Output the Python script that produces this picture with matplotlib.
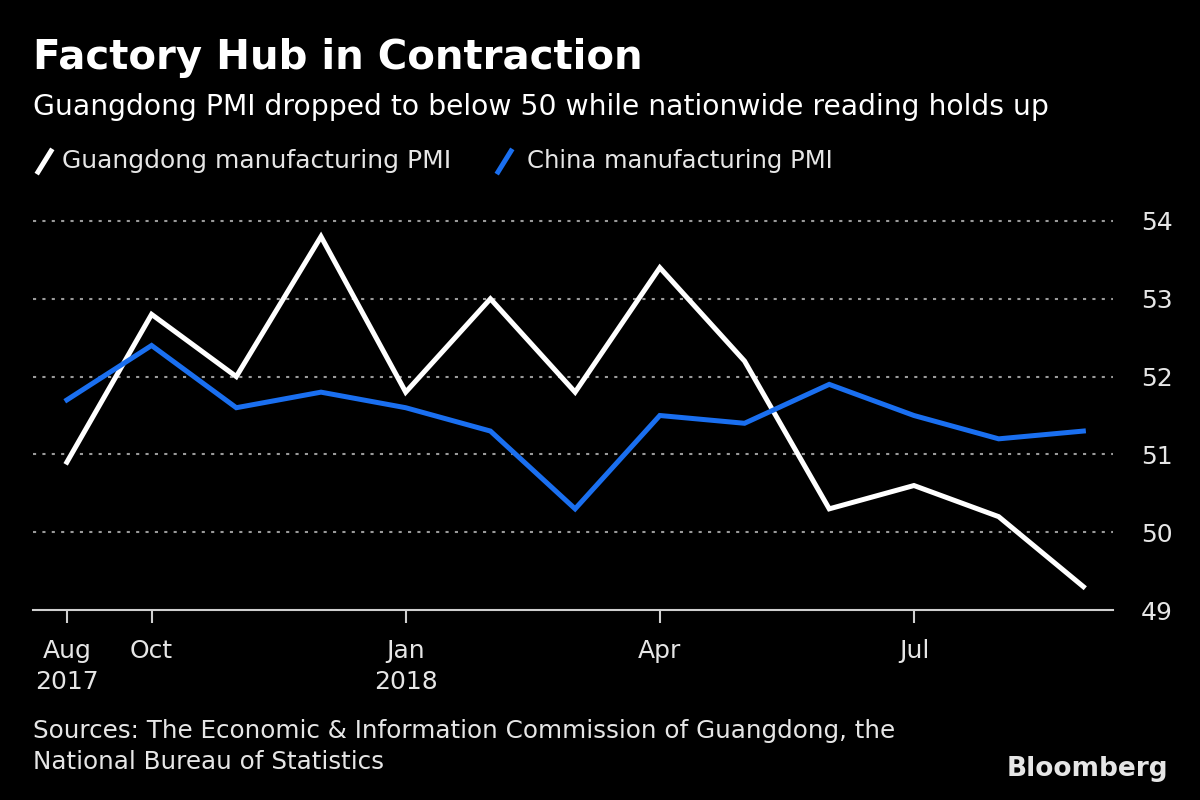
import matplotlib
matplotlib.use("Agg")
import matplotlib.pyplot as plt
from matplotlib.lines import Line2D
import numpy as np

plt.rcParams['font.family'] = ['DejaVu Sans']

# data: 13 monthly readings
guangdong = [50.9, 52.8, 52.0, 53.8, 51.8, 53.0, 51.8, 53.4, 52.2, 50.3, 50.6, 50.2, 49.3]
china = [51.7, 52.4, 51.6, 51.8, 51.6, 51.3, 50.3, 51.5, 51.4, 51.9, 51.5, 51.2, 51.3]
tick_idx = [0, 1, 4, 7, 10]
tick_labels = ["Aug\n2017", "Oct", "Jan\n2018", "Apr", "Jul"]
y_ticks = [49, 50, 51, 52, 53, 54]

BG = "black"
FG = "#e6e6e6"
BLUE = "#1a6ff0"
W, H = 1200, 800

fig = plt.figure(figsize=(12, 8), dpi=100, facecolor=BG)
ax = fig.add_axes([33 / W, 1 - 610 / H, (1113 - 33) / W, 400 / H], facecolor=BG)

x = np.arange(len(guangdong))
ax.plot(x, guangdong, color="white", lw=3.6, solid_joinstyle="miter", zorder=3)
ax.plot(x, china, color=BLUE, lw=3.6, solid_joinstyle="miter", zorder=3)

ax.set_xlim(-0.4, 12.35)
ax.set_ylim(49, 49 + 400 / 77.8)

for v in y_ticks[1:]:
    ax.axhline(v, color="#9a9a9a", lw=1.5, ls=(0, (1.5, 3)), zorder=1)

for s in ["top", "left", "right"]:
    ax.spines[s].set_visible(False)
ax.spines["bottom"].set_color("#cfcfcf")
ax.spines["bottom"].set_linewidth(1.5)

ax.yaxis.tick_right()
ax.set_yticks(y_ticks)
ax.set_yticklabels([str(v) for v in y_ticks])
ax.tick_params(axis="y", length=0, pad=20, labelsize=18, labelcolor=FG)
ax.set_xticks(tick_idx)
ax.set_xticklabels(tick_labels, linespacing=1.35)
ax.tick_params(axis="x", length=9, width=1.5, color="#cfcfcf", direction="out",
               pad=12, labelsize=18, labelcolor=FG)

fig.text(33 / W, 1 - 58 / H, "Factory Hub in Contraction", color="white",
         fontsize=29, fontweight="bold", va="center", ha="left")
fig.text(33 / W, 1 - 107 / H, "Guangdong PMI dropped to below 50 while nationwide reading holds up",
         color="white", fontsize=20.3, va="center", ha="left")

# legend with slash markers
fig.add_artist(Line2D([38 / W, 51 / W], [1 - 172 / H, 1 - 151 / H], color="white", lw=3.6,
                      transform=fig.transFigure))
fig.text(62 / W, 1 - 161 / H, "Guangdong manufacturing PMI", color=FG, fontsize=18, va="center")
fig.add_artist(Line2D([498 / W, 511 / W], [1 - 172 / H, 1 - 151 / H], color=BLUE, lw=3.6,
                      transform=fig.transFigure))
fig.text(527 / W, 1 - 161 / H, "China manufacturing PMI", color=FG, fontsize=17.5, va="center")

fig.text(33 / W, 1 - 731 / H, "Sources: The Economic & Information Commission of Guangdong, the",
         color=FG, fontsize=17.7, va="center")
fig.text(33 / W, 1 - 762 / H, "National Bureau of Statistics", color=FG, fontsize=17.7, va="center")
fig.text(1168 / W, 1 - 769 / H, "Bloomberg", color="#e6e6e6", fontsize=19, fontweight="bold",
         ha="right", va="center")

fig.savefig("out.png", dpi=100, facecolor=BG)
